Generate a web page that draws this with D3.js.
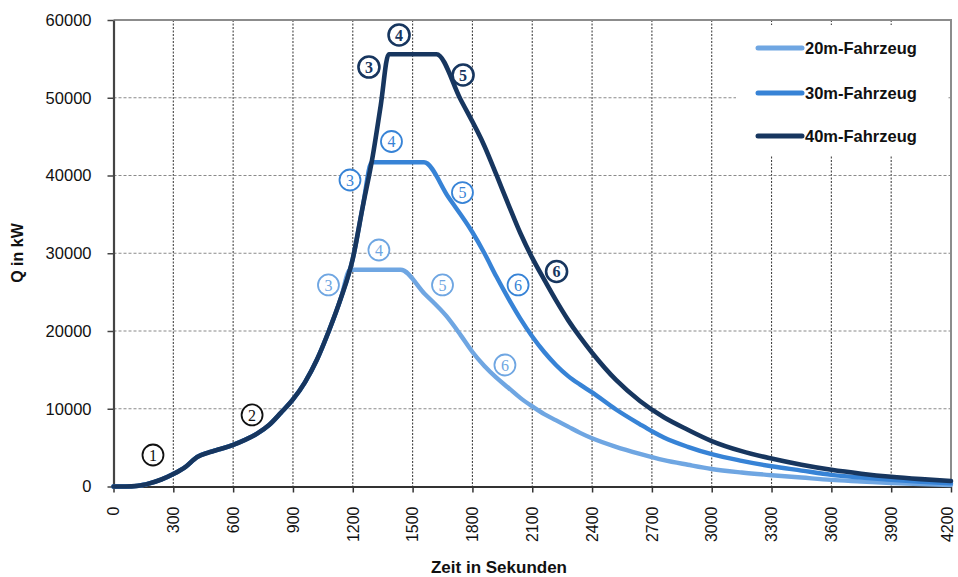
<!DOCTYPE html>
<html>
<head>
<meta charset="utf-8">
<script src="https://cdn.jsdelivr.net/npm/d3@7"></script>
<style>
  html, body { margin: 0; padding: 0; background: #fff; }
  svg { display: block; }
</style>
</head>
<body>
<svg id="chart" width="958" height="577"></svg>
<script>
// Wärmefreisetzungsrate Q (kW) über der Zeit (s) für drei Fahrzeuglängen
const xTicks = [0, 300, 600, 900, 1200, 1500, 1800, 2100, 2400, 2700, 3000, 3300, 3600, 3900, 4200];
const yTicks = [0, 10000, 20000, 30000, 40000, 50000, 60000];

const seriesNames = ["20m-Fahrzeug", "30m-Fahrzeug", "40m-Fahrzeug"];
const seriesColors = ["#6fa6e2", "#3783d6", "#17365f"];

// gemeinsamer Anstieg (Phasen 1 bis 3)
const riseTime = [0, 60, 120, 180, 240, 300, 360, 420, 480, 540, 600, 660, 720, 780, 840, 900, 960, 1020, 1080, 1140, 1200, 1250, 1300, 1340, 1380];
const riseQ    = [0, 0, 80, 400, 900, 1600, 2500, 3800, 4400, 4850, 5350, 6000, 6800, 7900, 9500, 11200, 13400, 16300, 20000, 24200, 29300, 36000, 42500, 49000, 55600];

// 20m-Fahrzeug
const time20 = [0, 60, 120, 180, 240, 300, 360, 420, 480, 540, 600, 660, 720, 780, 840, 900, 960, 1020, 1080, 1140, 1186,
  1440, 1560, 1670, 1740, 1800, 1860, 1920, 1980, 2040, 2100, 2160, 2220, 2280, 2340, 2400, 2520, 2640, 2760, 2880, 3000, 3150, 3300, 3450, 3600, 3750, 3900, 4050, 4200];
const q20 = [0, 0, 80, 400, 900, 1600, 2500, 3800, 4400, 4850, 5350, 6000, 6800, 7900, 9500, 11200, 13400, 16300, 20000, 24200, 27870,
  27870, 24800, 21900, 19500, 17300, 15500, 14000, 12700, 11400, 10300, 9300, 8500, 7700, 6900, 6200, 5100, 4200, 3400, 2800, 2250, 1800, 1450, 1150, 850, 650, 450, 300, 200];

// 30m-Fahrzeug
const time30 = [0, 60, 120, 180, 240, 300, 360, 420, 480, 540, 600, 660, 720, 780, 840, 900, 960, 1020, 1080, 1140, 1200, 1250, 1295,
  1557, 1680, 1800, 1860, 1920, 1980, 2040, 2100, 2160, 2220, 2280, 2340, 2400, 2520, 2640, 2700, 2760, 2880, 3000, 3150, 3300, 3450, 3600, 3750, 3900, 4050, 4200];
const q30 = [0, 0, 80, 400, 900, 1600, 2500, 3800, 4400, 4850, 5350, 6000, 6800, 7900, 9500, 11200, 13400, 16300, 20000, 24200, 29300, 36000, 41700,
  41700, 37200, 32700, 30000, 27000, 24200, 21600, 19300, 17300, 15600, 14200, 13100, 12100, 9900, 8000, 7100, 6300, 5100, 4150, 3300, 2600, 2050, 1500, 1150, 850, 600, 400];

// 40m-Fahrzeug
const time40 = riseTime.concat([1620, 1740, 1860, 1920, 1980, 2040, 2100, 2160, 2220, 2280, 2340, 2400, 2520, 2640, 2760, 2880, 3000, 3150, 3300, 3450, 3600, 3750, 3900, 4050, 4200]);
const q40 = riseQ.concat([55600, 49800, 43800, 40100, 36300, 32600, 29400, 26600, 23900, 21400, 19200, 17200, 13700, 11000, 8900, 7300, 5850, 4550, 3600, 2800, 2150, 1650, 1250, 950, 700]);

// Phasenmarken (Kreisziffern)
const markNumbers = ["1", "2", "3", "4", "5", "6", "3", "4", "5", "6", "3", "4", "5", "6"];
const markSeries  = [2, 2, 2, 2, 2, 2, 1, 1, 1, 1, 0, 0, 0, 0];
const markTime    = [198, 695, 1281, 1432, 1753, 2222, 1186, 1394, 1750, 2029, 1078, 1331, 1650, 1963];
const markQ       = [4050, 9200, 53950, 58070, 52930, 27650, 39420, 44370, 37810, 25920, 25920, 30420, 25920, 15630];

const svg = d3.select("#chart");
const plot = { left: 113.5, right: 951, top: 20, bottom: 486.5 };

const x = d3.scaleLinear().domain([0, 4200]).range([plot.left, plot.right]);
const y = d3.scaleLinear().domain([0, 60000]).range([plot.bottom, plot.top]);

const FONT = "'Liberation Sans', Arial, sans-serif";

// Gitterlinien
const grid = svg.append("g");
grid.selectAll("line.v").data(xTicks.filter(d => d > 0 && d < 4200)).join("line")
  .attr("x1", d => x(d)).attr("x2", d => x(d))
  .attr("y1", plot.top).attr("y2", plot.bottom)
  .attr("stroke", "#444").attr("stroke-width", 1.1).attr("stroke-dasharray", "2,1.5");
grid.selectAll("line.h").data(yTicks.filter(d => d > 0 && d < 60000)).join("line")
  .attr("x1", plot.left).attr("x2", plot.right)
  .attr("y1", d => y(d)).attr("y2", d => y(d))
  .attr("stroke", "#8a8a8a").attr("stroke-width", 1.1).attr("stroke-dasharray", "3,2");

// Rahmen oben und rechts
svg.append("path")
  .attr("d", `M${plot.left},${plot.top}H${plot.right}V${plot.bottom}`)
  .attr("fill", "none").attr("stroke", "#8c8c8c").attr("stroke-width", 2);

// Achsen
const xAxis = svg.append("g").attr("transform", `translate(0,${plot.bottom})`)
  .call(d3.axisBottom(x).tickValues(xTicks).tickSize(6).tickSizeOuter(0).tickFormat(d3.format("d")));
xAxis.select(".domain").attr("stroke", "#333").attr("stroke-width", 2);
xAxis.selectAll(".tick line").attr("stroke", "#333").attr("stroke-width", 1.5);
xAxis.selectAll(".tick text")
  .attr("font-family", FONT).attr("font-size", 16).attr("fill", "#111")
  .attr("transform", "rotate(-90)")
  .attr("text-anchor", "end")
  .attr("x", -20).attr("y", 0)
  .attr("dy", d => d === 4200 ? "0.12em" : "0.33em");

const yAxis = svg.append("g").attr("transform", `translate(${plot.left},0)`)
  .call(d3.axisLeft(y).tickValues(yTicks).tickSize(6).tickSizeOuter(0).tickFormat(d3.format("d")));
yAxis.select(".domain").attr("stroke", "#444").attr("stroke-width", 2.2);
yAxis.selectAll(".tick line").attr("stroke", "#444").attr("stroke-width", 1.5);
yAxis.selectAll(".tick text")
  .attr("font-family", FONT).attr("font-size", 16.5).attr("fill", "#111")
  .attr("x", -22);

// Achsentitel
svg.append("text")
  .attr("x", 499).attr("y", 573)
  .attr("text-anchor", "middle")
  .attr("font-family", FONT).attr("font-weight", "bold").attr("font-size", 17).attr("fill", "#111")
  .text("Zeit in Sekunden");
svg.append("text")
  .attr("transform", "translate(23,253) rotate(-90)")
  .attr("text-anchor", "middle")
  .attr("font-family", FONT).attr("font-weight", "bold").attr("font-size", 16).attr("fill", "#111")
  .text("Q in kW");

// Kurven
const seriesTime = [time20, time30, time40];
const seriesQ = [q20, q30, q40];
const line = d3.line().x(d => x(d[0])).y(d => y(d[1])).curve(d3.curveMonotoneX);
const curves = svg.append("g");
seriesNames.forEach((name, i) => {
  const pts = seriesTime[i].map((t, k) => [t, seriesQ[i][k]]);
  curves.append("path")
    .datum(pts)
    .attr("d", line)
    .attr("fill", "none")
    .attr("stroke", seriesColors[i])
    .attr("stroke-width", i === 2 ? 4.6 : 4.4)
    .attr("stroke-linejoin", "round")
    .attr("stroke-linecap", "round");
});

// Kreisziffern
const marks = svg.append("g");
markNumbers.forEach((n, i) => {
  const s = markSeries[i];
  const bold = s === 2 && i >= 2;
  const col = (i < 2) ? "#111" : seriesColors[s];
  const g = marks.append("g").attr("transform", `translate(${x(markTime[i])},${y(markQ[i])})`);
  g.append("circle").attr("r", 10.5)
    .attr("fill", "#fff").attr("stroke", col)
    .attr("stroke-width", bold ? 2.6 : 1.8);
  g.append("text")
    .attr("text-anchor", "middle").attr("dy", "0.36em")
    .attr("font-family", "'Liberation Serif', 'DejaVu Serif', serif")
    .attr("font-weight", bold ? "bold" : "normal")
    .attr("font-size", 16).attr("fill", col)
    .text(n);
});

// Legende
const legend = svg.append("g");
legend.append("rect")
  .attr("x", 736).attr("y", 25).attr("width", 212).attr("height", 130)
  .attr("fill", "#fff");
const legendY = [48, 93, 136];
seriesNames.forEach((name, i) => {
  legend.append("line")
    .attr("x1", 758).attr("x2", 802)
    .attr("y1", legendY[i]).attr("y2", legendY[i])
    .attr("stroke", seriesColors[i]).attr("stroke-width", 5).attr("stroke-linecap", "round");
  legend.append("text")
    .attr("x", 805).attr("y", legendY[i]).attr("dy", "0.36em")
    .attr("font-family", FONT).attr("font-weight", "bold").attr("font-size", 16.5).attr("fill", "#111")
    .text(name);
});
</script>
</body>
</html>
